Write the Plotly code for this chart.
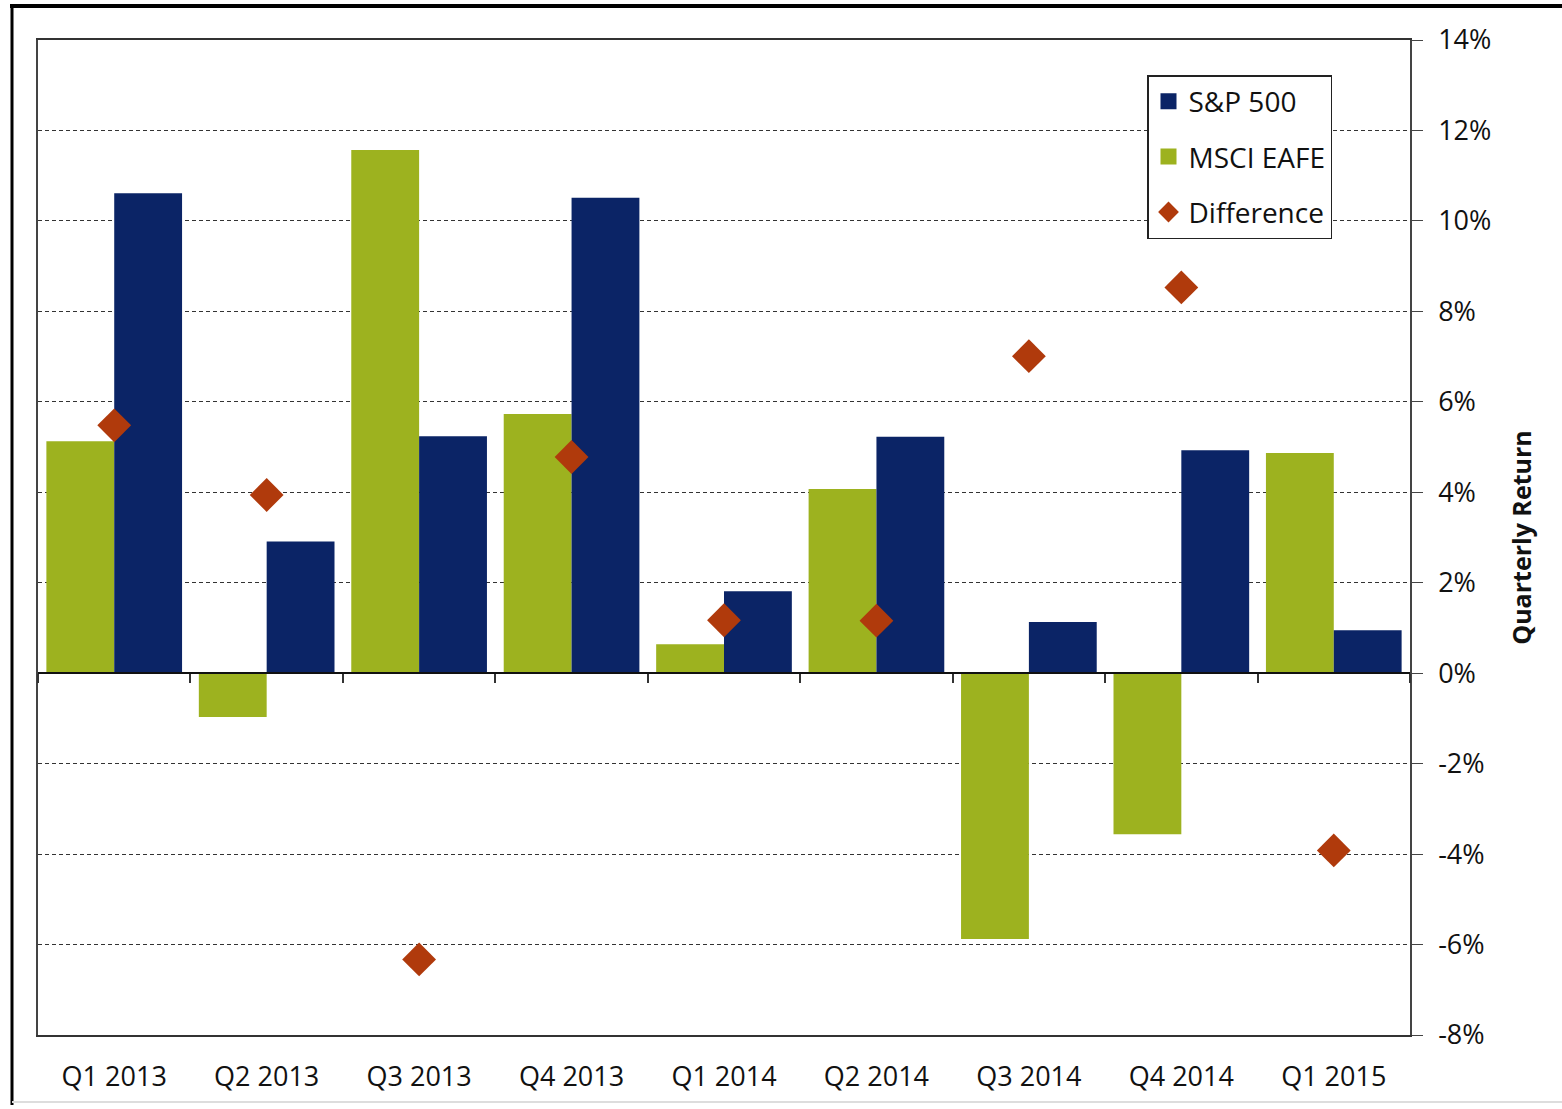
import plotly.graph_objects as go

categories = ["Q1 2013", "Q2 2013", "Q3 2013", "Q4 2013", "Q1 2014",
              "Q2 2014", "Q3 2014", "Q4 2014", "Q1 2015"]
msci_eafe = [5.13, -0.97, 11.57, 5.73, 0.64, 4.07, -5.88, -3.56, 4.87]
sp500 = [10.61, 2.91, 5.24, 10.51, 1.81, 5.23, 1.13, 4.93, 0.95]
difference = [5.48, 3.94, -6.33, 4.78, 1.17, 1.16, 7.01, 8.53, -3.92]
y_ticks = [-8, -6, -4, -2, 0, 2, 4, 6, 8, 10, 12, 14]
y_tick_labels = [f"{v}%" for v in y_ticks]

NAVY = "#0b2466"
GREEN = "#9db21f"
RUST = "#b03a0c"
FONT = "Open Sans"

W, H = 1562, 1109
ML, MR, MT, MB = 38, 152, 40, 74
PW, PH = W - ML - MR, H - MT - MB
YMIN, YMAX = -8, 14
XRANGE = [-0.5, len(categories) - 0.5]


def px_x(p):
    return (p - ML) / PW


def px_y(p):
    return (H - MB - p) / PH


fig = go.Figure()
fig.add_trace(go.Bar(x=categories, y=msci_eafe, name="MSCI EAFE",
                     marker=dict(color=GREEN, line=dict(width=0)),
                     showlegend=False))
fig.add_trace(go.Bar(x=categories, y=sp500, name="S&P 500",
                     marker=dict(color=NAVY, line=dict(width=0)),
                     showlegend=False))
fig.add_trace(go.Scatter(x=categories, y=difference, name="Difference",
                         mode="markers",
                         marker=dict(symbol="diamond", size=26, color=RUST),
                         showlegend=False))
# legend entries (Excel style larger square keys)
fig.add_trace(go.Scatter(x=[None], y=[None], name="S&P 500", mode="markers",
                         marker=dict(symbol="square", size=16, color=NAVY),
                         legendgroup="a", legendrank=1))
fig.add_trace(go.Scatter(x=[None], y=[None], name="MSCI EAFE", mode="markers",
                         marker=dict(symbol="square", size=16, color=GREEN),
                         legendgroup="b", legendrank=2))
fig.add_trace(go.Scatter(x=[None], y=[None], name="Difference", mode="markers",
                         marker=dict(symbol="diamond", size=17, color=RUST),
                         legendgroup="c", legendrank=3))
# zero axis with category tick marks
fig.add_trace(go.Scatter(x=categories, y=[None] * len(categories),
                         xaxis="x2", showlegend=False, hoverinfo="skip"))

zero_pos = (0 - YMIN) / (YMAX - YMIN)

fig.update_layout(
    width=W, height=H,
    margin=dict(l=ML, r=MR, t=MT, b=MB),
    paper_bgcolor="white", plot_bgcolor="white",
    font=dict(family=FONT, size=27, color="#111111"),
    barmode="group", bargap=0.11, bargroupgap=0,
    xaxis=dict(type="category", range=XRANGE, showline=True, linecolor="#333333",
               linewidth=1.5, mirror=True, ticks="", showgrid=False,
               tickfont=dict(size=27), ticklabelstandoff=17),
    xaxis2=dict(type="category", overlaying="x", anchor="free", position=zero_pos,
                range=XRANGE,
                side="bottom", showline=True, linecolor="#111111", linewidth=1.5,
                ticks="outside", ticklen=9, tickcolor="#333333", tickwidth=1.5,
                tickson="boundaries", showticklabels=False, showgrid=False),
    yaxis=dict(side="right", range=[YMIN, YMAX], tickvals=y_ticks,
               ticktext=y_tick_labels, showgrid=True, gridcolor="#333333",
               griddash="4px,3px", gridwidth=1, showline=True, linecolor="#444444",
               linewidth=1.5, mirror=True, ticks="outside", ticklen=11,
               tickcolor="#444444", zeroline=False, tickfont=dict(size=27),
               ticklabelstandoff=10,
               title=dict(text="<b>Quarterly Return</b>", font=dict(size=25),
                          standoff=23)),
    legend=dict(x=px_x(1147), y=px_y(75), xanchor="left", yanchor="top",
                bordercolor="#222222", borderwidth=1.5, bgcolor="white",
                font=dict(size=28), traceorder="grouped", tracegroupgap=16,
                itemwidth=30),
    shapes=[
        dict(type="line", xref="paper", yref="paper", x0=px_x(12), x1=px_x(12),
             y0=px_y(4), y1=px_y(1105), line=dict(color="black", width=3)),
        dict(type="line", xref="paper", yref="paper", x0=px_x(10), x1=px_x(1562),
             y0=px_y(6), y1=px_y(6), line=dict(color="black", width=4)),
        dict(type="line", xref="paper", yref="paper", x0=px_x(12), x1=px_x(1562),
             y0=px_y(1102), y1=px_y(1102), line=dict(color="#dddddd", width=2)),
    ],
)

fig.write_html("out.html", config={"displayModeBar": False},
               post_script="document.body.style.margin='0';"
                           "document.body.style.padding='0';")
